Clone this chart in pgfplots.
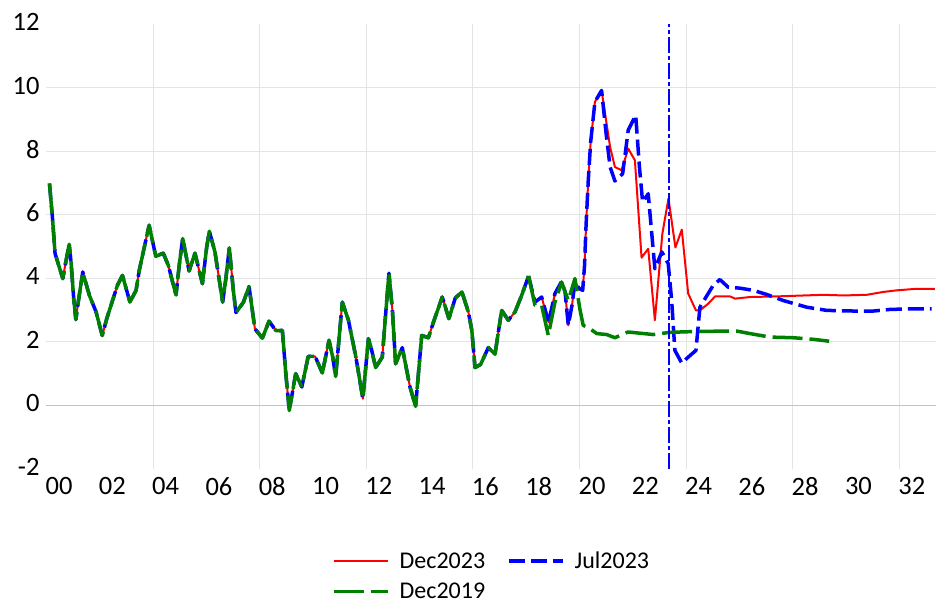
\documentclass[border=0pt]{standalone}
\usepackage{pgfplots}
\pgfplotsset{compat=1.18}
\usepackage{pgfplotstable}
\usepackage{fontspec}
\setmainfont{Carlito}

\definecolor{cred}{RGB}{255,0,0}
\definecolor{cblue}{RGB}{0,0,255}
\definecolor{cgreen}{RGB}{0,128,0}
\definecolor{gridgray}{RGB}{228,228,228}
\definecolor{zerogray}{RGB}{195,195,195}

\tikzset{
  redline/.style={color=cred, line width=2pt, line join=round, mark=none},
  blueline/.style={color=cblue, line width=3.5pt, line join=round, dash pattern=on 16pt off 6pt, mark=none},
  greenline/.style={color=cgreen, line width=3.5pt, line join=round, dash pattern=on 30pt off 7pt, mark=none},
}
\pgfplotsset{legend image code/.code={\draw[#1] (0pt,0pt) -- (54pt,0pt);}}

\pgfplotstableread{
t v
1999.64 6.98
1999.75 5.93
1999.85 4.78
2000.14 3.99
2000.23 4.41
2000.38 5.07
2000.45 4.51
2000.55 3.36
2000.63 2.70
2000.72 3.25
2000.89 4.20
2000.95 4.01
2001.14 3.46
2001.39 2.94
2001.62 2.20
2001.79 2.73
2002.19 3.78
2002.38 4.09
2002.66 3.25
2002.89 3.62
2003.01 4.25
2003.38 5.67
2003.63 4.69
2003.91 4.79
2004.10 4.41
2004.27 3.85
2004.39 3.48
2004.51 4.41
2004.64 5.25
2004.88 4.23
2005.10 4.79
2005.38 3.83
2005.54 4.98
2005.64 5.48
2005.85 4.83
2006.14 3.25
2006.26 3.99
2006.39 4.96
2006.54 3.62
2006.64 2.92
2006.92 3.25
2007.13 3.74
2007.35 2.41
2007.63 2.12
2007.88 2.65
2008.14 2.35
2008.38 2.36
2008.51 1.00
2008.64 -0.16
2008.88 1.00
2009.11 0.58
2009.35 1.54
2009.61 1.54
2009.88 1.02
2010.13 2.05
2010.27 1.52
2010.38 0.91
2010.63 3.25
2010.86 2.68
2011.14 1.52
2011.40 0.21
2011.61 2.10
2011.71 1.82
2011.88 1.19
2012.13 1.52
2012.26 2.91
2012.38 4.16
2012.51 2.99
2012.63 1.31
2012.88 1.82
2013.17 0.58
2013.38 -0.03
2013.61 2.20
2013.86 2.13
2014.05 2.62
2014.38 3.41
2014.63 2.73
2014.87 3.38
2015.12 3.57
2015.36 2.94
2015.49 2.36
2015.61 1.19
2015.82 1.29
2016.11 1.82
2016.36 1.61
2016.61 2.99
2016.86 2.68
2017.11 2.94
2017.36 3.46
2017.62 4.07
}\hist

\pgfplotstableread{
t v
2017.62 4.07
2017.86 3.25
2018.11 3.41
2018.37 2.62
2018.61 3.52
2018.86 3.90
2018.99 3.57
2019.11 2.52
2019.25 3.15
2019.36 3.88
2019.52 3.68
2019.65 3.62
2019.72 4.40
2019.78 5.72
2019.86 7.08
2019.95 8.29
2020.11 9.55
2020.36 9.91
2020.49 9.18
2020.68 8.13
2020.86 7.50
2021.11 7.40
2021.36 8.08
2021.61 7.71
2021.86 4.65
2022.11 4.93
2022.36 2.68
2022.64 5.40
2022.87 6.51
2023.13 4.97
2023.37 5.53
2023.61 3.52
2023.90 2.99
2024.05 2.99
2024.36 3.20
2024.62 3.43
2025.18 3.43
2025.37 3.36
2025.93 3.41
2026.93 3.43
2028.68 3.48
2029.43 3.46
2030.31 3.48
2030.93 3.57
2031.43 3.62
2032.18 3.67
2032.87 3.67
}\redtail

\pgfplotstableread{
t v
2017.62 4.07
2017.86 3.25
2018.11 3.41
2018.37 2.62
2018.61 3.52
2018.86 3.90
2018.99 3.57
2019.11 2.52
2019.25 3.15
2019.36 3.88
2019.52 3.68
2019.65 3.62
2019.72 4.40
2019.78 5.72
2019.86 7.08
2019.95 8.29
2020.11 9.55
2020.36 9.91
2020.53 8.55
2020.68 7.50
2020.86 7.06
2021.15 7.29
2021.36 8.66
2021.64 9.13
2021.78 7.50
2021.90 6.40
2022.11 6.66
2022.36 4.30
2022.62 4.83
2022.86 4.46
2022.99 3.30
2023.11 1.73
2023.37 1.33
2023.61 1.52
2023.90 1.73
2024.05 3.09
2024.28 3.41
2024.55 3.78
2024.80 3.96
2025.11 3.72
2025.55 3.69
2026.05 3.62
2026.56 3.49
2027.18 3.30
2028.06 3.09
2028.81 2.99
2029.81 2.97
2030.56 2.97
2031.18 3.02
2032.06 3.04
2032.75 3.04
}\bluetail

\pgfplotstableread{
t v
2017.62 4.07
2017.86 3.15
2018.11 3.15
2018.36 2.20
2018.61 3.25
2018.86 3.88
2019.11 3.30
2019.36 3.99
2019.55 3.01
2019.67 2.52
2019.93 2.41
2020.18 2.26
2020.55 2.23
2020.86 2.13
2021.35 2.31
2022.30 2.23
2022.93 2.30
2024.05 2.33
2025.43 2.34
2025.93 2.26
2026.68 2.15
2027.55 2.13
2028.30 2.08
2028.90 2.02
}\greentail

\pgfplotstableread{
t v
2022.89 -2
2022.89 12
}\vline

\begin{document}
\begin{tikzpicture}
\useasboundingbox (0,0) rectangle (939pt,605pt);
\begin{axis}[
  at={(46pt,136pt)}, anchor=south west,
  scale only axis, width=890pt, height=445pt,
  xmin=1999.51, xmax=2032.91, ymin=-2, ymax=12,
  axis line style={draw=none},
  major tick length=0pt, minor tick length=0pt,
  tick style={draw=none},
  xtick={2000,2002,...,2032},
  xticklabels={00,02,04,06,08,10,12,14,16,18,20,22,24,26,28,30,32},
  minor xtick={2003.53,2007.53,2011.53,2015.53,2019.53,2023.53,2027.53,2031.53},
  xminorgrids=true,
  ytick={-2,0,...,12},
  yticklabels={-2,0,2,4,6,8,10,12},
  minor ytick={2,4,6,8,10},
  yminorgrids=true,
  minor grid style={draw=gridgray, line width=1pt},
  extra y ticks={0},
  extra y tick labels={},
  extra y tick style={ymajorgrids=true, major grid style={draw=zerogray, line width=1.3pt}},
  ticklabel style={font=\fontsize{26.5}{30}\selectfont},
  x tick label style={yshift=-5pt},
  y tick label style={xshift=-3pt, yshift=2pt},
  legend columns=2,
  legend cell align=left,
  legend style={at={(axis description cs:0.3213,-0.186)}, anchor=north west,
    draw=none, fill=none, inner sep=0pt,
    font=\fontsize{24}{28}\selectfont,
    nodes={inner sep=0pt},
    row sep=13pt,
    /tikz/every odd column/.append style={column sep=10pt},
    /tikz/every even column/.append style={column sep=22pt}},
]
\addplot[redline, forget plot] table {\hist};
\addplot[redline] table {\redtail};
\addlegendentry{Dec2023}
\addplot[blueline, forget plot] table {\hist};
\addplot[blueline] table {\bluetail};
\addlegendentry{Jul2023}
\addplot[greenline, forget plot] table {\hist};
\addplot[greenline] table {\greentail};
\addlegendentry{Dec2019}
\addplot[color=cblue, line width=2pt, dash pattern=on 16pt off 3pt on 4pt off 3pt, forget plot] table {\vline};
\end{axis}
\end{tikzpicture}
\end{document}
